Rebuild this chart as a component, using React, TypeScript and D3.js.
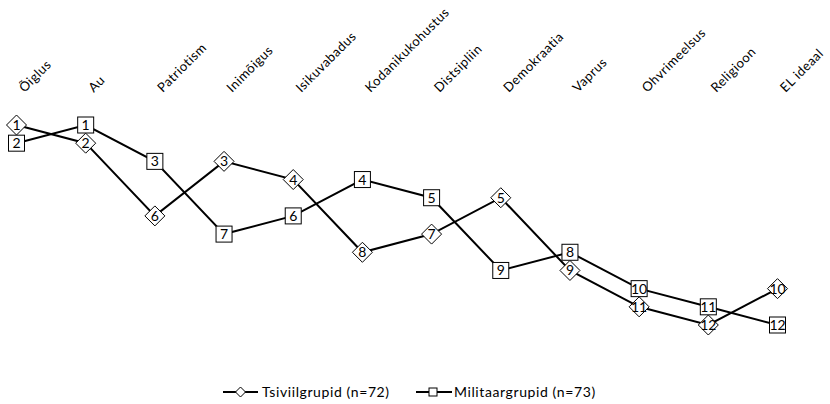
import React from 'react';
import * as d3 from 'd3';

// väärtuste järjestus (1 = kõige olulisem)
const categories = ['Õiglus', 'Au', 'Patriotism', 'Inimõigus', 'Isikuvabadus', 'Kodanikukohustus',
  'Distsipliin', 'Demokraatia', 'Vaprus', 'Ohvrimeelsus', 'Religioon', 'EL ideaal'];
const tsiviilRanks = [1, 2, 6, 3, 4, 8, 7, 5, 9, 11, 12, 10];
const militaarRanks = [2, 1, 3, 7, 6, 4, 5, 9, 8, 10, 11, 12];
const seriesNames = ['Tsiviilgrupid (n=72)', 'Militaargrupid (n=73)'];

const width = 830;
const height = 404;
const font = 'Lato, "Open Sans", sans-serif';

const App = () => {
  const x = d3.scalePoint<string>().domain(categories).range([16.5, 777.5]);
  const y = d3.scaleLinear().domain([1, 12]).range([125, 325]);

  const line = d3.line<number>()
    .x((d, i) => x(categories[i]) as number)
    .y(d => y(d));

  const diamond = (cx, cy, r) => `M${cx},${cy - r} L${cx + r},${cy} L${cx},${cy + r} L${cx - r},${cy} Z`;

  return (
    <div style={{ position: 'absolute', left: 0, top: 0 }}>
      <svg width={width} height={height} style={{ display: 'block', fontFamily: font }}>
        <rect width={width} height={height} fill="#fff" />

        {/* kategooriate sildid */}
        {categories.map(c => (
          <text key={c} transform={`translate(${(x(c) as number) + 8},${93}) rotate(-45)`}
            fontSize={13} letterSpacing={0.5} fill="#000" textAnchor="start">{c}</text>
        ))}

        {/* jooned */}
        <path d={line(tsiviilRanks) || ''} fill="none" stroke="#000" strokeWidth={2} />
        <path d={line(militaarRanks) || ''} fill="none" stroke="#000" strokeWidth={2} />

        {/* militaar: ruudud */}
        {militaarRanks.map((r, i) => {
          const cx = x(categories[i]) as number;
          const cy = y(r);
          return (
            <g key={'m' + i}>
              <rect x={cx - 8} y={cy - 8} width={16} height={16} fill="#fff" stroke="#000" strokeWidth={1} />
              <text x={cx} y={cy + 5} fontSize={14} textAnchor="middle" fill="#000">{r}</text>
            </g>
          );
        })}

        {/* tsiviil: rombid */}
        {tsiviilRanks.map((r, i) => {
          const cx = x(categories[i]) as number;
          const cy = y(r);
          return (
            <g key={'t' + i}>
              <path d={diamond(cx, cy, 10)} fill="#fff" stroke="#000" strokeWidth={1} />
              <text x={cx} y={cy + 5} fontSize={14} textAnchor="middle" fill="#000">{r}</text>
            </g>
          );
        })}

        {/* legend */}
        <g>
          <line x1={223} x2={258} y1={392} y2={392} stroke="#000" strokeWidth={2} />
          <path d={diamond(240.5, 392, 5)} fill="#fff" stroke="#000" strokeWidth={1} />
          <text x={262} y={397} fontSize={14} letterSpacing={0.6} fill="#000">{seriesNames[0]}</text>

          <line x1={416} x2={452} y1={392} y2={392} stroke="#000" strokeWidth={2} />
          <rect x={429} y={388} width={8} height={8} fill="#fff" stroke="#000" strokeWidth={1} />
          <text x={454} y={397} fontSize={14} letterSpacing={0.6} fill="#000">{seriesNames[1]}</text>
        </g>
      </svg>
    </div>
  );
};

export default App;
